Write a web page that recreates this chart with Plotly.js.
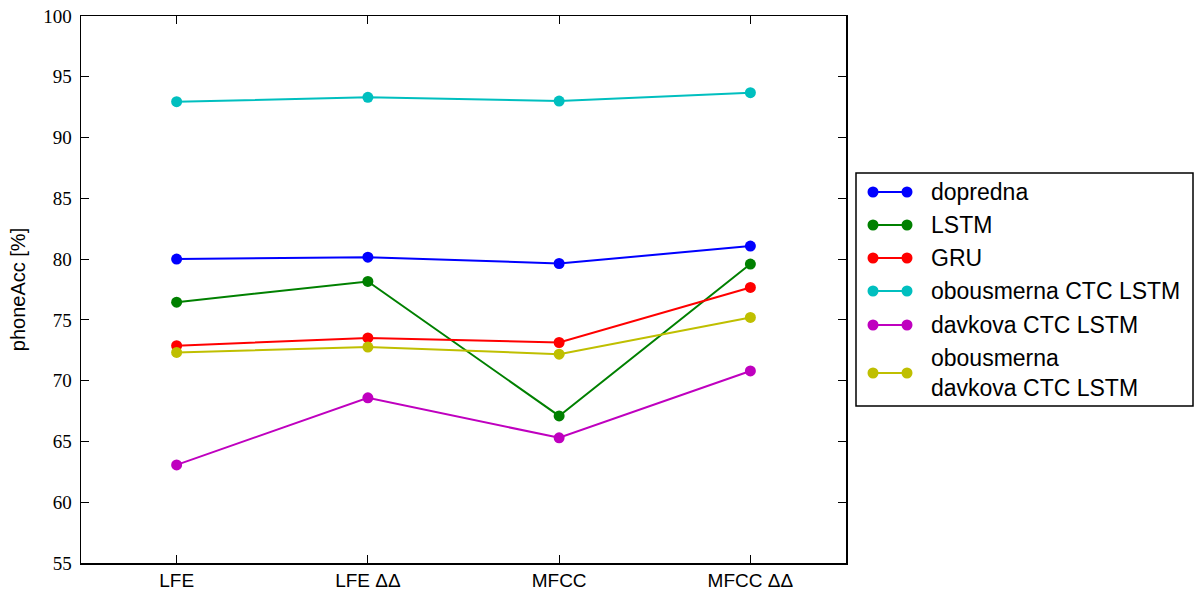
<!DOCTYPE html>
<html>
<head>
<meta charset="utf-8">
<script src="https://cdn.plot.ly/plotly-3.0.1.min.js"></script>
<style>html,body{margin:0;padding:0;background:#fff;}#chart{width:1195px;height:592px;}</style>
</head>
<body>
<div id="chart"></div>
<script>
const categories = ["LFE", "LFE \u0394\u0394", "MFCC", "MFCC \u0394\u0394"];
const seriesNames = ["dopredna", "LSTM", "GRU", "obousmerna CTC LSTM", "davkova CTC LSTM", "obousmerna<br>davkova CTC LSTM"];
const seriesColors = ["#0000ff", "#008000", "#ff0000", "#00bfbf", "#bf00bf", "#bfbf00"];
const dopredna = [80.0, 80.16, 79.64, 81.07];
const lstm = [76.46, 78.16, 67.1, 79.59];
const gru = [72.88, 73.52, 73.14, 77.67];
const obousmernaCtc = [92.95, 93.31, 93.0, 93.69];
const davkovaCtc = [63.07, 68.59, 65.3, 70.8];
const obousmernaDavkovaCtc = [72.32, 72.76, 72.18, 75.2];
const seriesValues = [dopredna, lstm, gru, obousmernaCtc, davkovaCtc, obousmernaDavkovaCtc];

const W = 1195, H = 592;
const M = {l: 81, r: 349, t: 16, b: 29};
const PW = W - M.l - M.r, PH = H - M.t - M.b;
const px = x => (x - M.l) / PW;
const py = y => (H - M.b - y) / PH;

const traces = seriesValues.map((vals, i) => ({
  x: categories, y: vals, type: 'scatter', mode: 'lines+markers',
  name: seriesNames[i], showlegend: false,
  line: {color: seriesColors[i], width: 2},
  marker: {color: seriesColors[i], size: 11}
}));

// manual legend (matplotlib style: two markers per sample)
const shapes = [];
const annotations = [];
shapes.push({type: 'rect', xref: 'paper', yref: 'paper', x0: px(856), x1: px(1193), y0: py(173), y1: py(406),
  line: {color: '#000', width: 1.5}, fillcolor: '#fff', layer: 'above'});
const rowY = [192, 225, 258, 291, 325, 373];
seriesNames.forEach((n, i) => {
  const yc = py(rowY[i]);
  shapes.push({type: 'line', xref: 'paper', yref: 'paper', x0: px(873), x1: px(907), y0: yc, y1: yc,
    line: {color: seriesColors[i], width: 2}, layer: 'above'});
  [873, 907].forEach(xx => {
    shapes.push({type: 'circle', xref: 'paper', yref: 'paper', xsizemode: 'pixel', ysizemode: 'pixel',
      xanchor: px(xx), yanchor: yc, x0: -5.5, x1: 5.5, y0: -5.5, y1: 5.5,
      fillcolor: seriesColors[i], line: {width: 0}, layer: 'above'});
  });
  annotations.push({xref: 'paper', yref: 'paper', x: px(929), y: yc, xanchor: 'left', yanchor: 'middle',
    text: n, showarrow: false, align: 'left',
    font: {family: 'Liberation Sans, Arial, sans-serif', size: 23, color: '#000'}});
});

const layout = {
  width: W, height: H,
  margin: M,
  paper_bgcolor: '#fff', plot_bgcolor: '#fff',
  showlegend: false,
  xaxis: {
    type: 'category', range: [-0.5, 3.5], automargin: false,
    showline: true, linecolor: '#000', linewidth: 1.5, mirror: 'ticks',
    ticks: 'inside', ticklen: 8, tickwidth: 1.2, tickcolor: '#000',
    showgrid: false, zeroline: false,
    tickfont: {family: 'Liberation Sans, Arial, sans-serif', size: 19, color: '#000'}
  },
  yaxis: {
    range: [55, 100], dtick: 5, tick0: 55, automargin: false,
    showline: true, linecolor: '#000', linewidth: 1.5, mirror: 'ticks',
    ticks: 'inside', ticklen: 8, tickwidth: 1.2, tickcolor: '#000',
    showgrid: false, zeroline: false, ticklabelstandoff: 4,
    tickfont: {family: 'Liberation Serif, Times New Roman, serif', size: 19, color: '#000'},
    title: {text: 'phoneAcc [%]', standoff: 12, font: {family: 'Liberation Sans, Arial, sans-serif', size: 20, color: '#000'}}
  },
  shapes: shapes,
  annotations: annotations
};

Plotly.newPlot('chart', traces, layout, {displayModeBar: false, staticPlot: true});
</script>
</body>
</html>
